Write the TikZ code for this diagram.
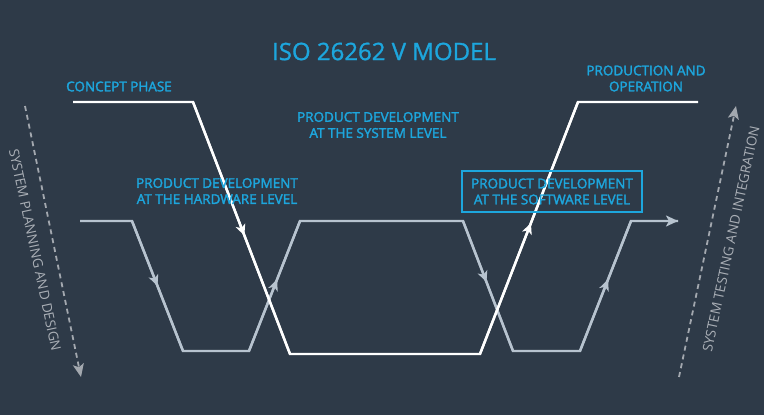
\documentclass[tikz,border=0pt]{standalone}
\usepackage{fontspec}
\setmainfont{Open Sans}
\newfontfamily\labelfont{Open Sans}[FakeBold=2.2]
\newfontfamily\titlefont{Open Sans}[FakeBold=1.2]
\usetikzlibrary{arrows.meta,decorations.markings}
\definecolor{bgslate}{HTML}{2E3A48}
\definecolor{cyanlabel}{HTML}{1DA6DD}
\definecolor{linegray}{HTML}{B7C3CF}
\definecolor{dashgray}{HTML}{A3A8AF}
\definecolor{sidegray}{HTML}{AAAFB6}
\begin{document}
\begin{tikzpicture}[x=1pt,y=-1pt,
  midtip/.style={postaction={decorate,decoration={markings,
      mark=at position #1 with {\arrow{Stealth[length=11pt,width=10pt,inset=3pt]}}}}},
  midtip/.default=0.5,
  systemline/.style={draw=white,line width=2.4pt},
  unitline/.style={draw=linegray,line width=2.4pt},
  phaseaxis/.style={draw=dashgray,line width=1.8pt,dash pattern=on 5pt off 4pt,
      -{Stealth[length=13pt,width=11pt,inset=3pt,fill=dashgray]}},
  heading/.style={text=cyanlabel,font=\titlefont\fontsize{24}{28}\selectfont},
  phaselabel/.style={text=cyanlabel,font=\labelfont\fontsize{13.5}{16}\selectfont,
      align=center,inner sep=0pt},
  sidelabel/.style={text=sidegray,font=\fontsize{13.6}{16}\selectfont,inner sep=0pt}]

\useasboundingbox (0,0) rectangle (764,415);
\fill[bgslate] (0,0) rectangle (764,415);

% corner points of the system-level path
\coordinate (s1) at (73,102);
\coordinate (s2) at (193,102);
\coordinate (s3) at (290,354);
\coordinate (s4) at (480,354);
\coordinate (s5) at (578,102);
\coordinate (s6) at (698,102);

% corner points of the hardware / software path
\coordinate (u1) at (80,221);
\coordinate (u2) at (132,221);
\coordinate (u3) at (183,351);
\coordinate (u4) at (249,351);
\coordinate (u5) at (300,221);
\coordinate (u6) at (463,221);
\coordinate (u7) at (513,351);
\coordinate (u8) at (580,351);
\coordinate (u9) at (631,221);
\coordinate (u10) at (678,221);

% side axes
\coordinate (pa) at (25,106);
\coordinate (pb) at (81,377);
\coordinate (ta) at (679,377);
\coordinate (tb) at (736,106);

% hardware / software path
\draw[unitline] (u1) -- (u2) -- (u3) -- (u4) -- (u5) -- (u6) -- (u7) -- (u8) -- (u9) -- (u10);
\draw[unitline,midtip=0.5] (u2) -- (u3);
\draw[unitline,midtip=0.55] (u4) -- (u5);
\draw[unitline,midtip=0.47] (u6) -- (u7);
\draw[unitline,midtip=0.55] (u8) -- (u9);
\draw[unitline,-{Stealth[length=12pt,width=11pt,inset=3pt]}] (u9) -- (u10);

% system-level path
\draw[systemline] (s1) -- (s2) -- (s3) -- (s4) -- (s5) -- (s6);
\draw[systemline,midtip=0.53] (s2) -- (s3);
\draw[systemline,midtip=0.52] (s4) -- (s5);

% side axes
\draw[phaseaxis] (pa) -- (pb);
\draw[phaseaxis] (ta) -- (tb);

% texts
\node[heading] (title) at (384,51.5) {ISO 26262 V MODEL};
\node[phaselabel] (concept) at (119,86.5) {CONCEPT PHASE};
\node[phaselabel] (production) at (646,78.5) {PRODUCTION AND\\OPERATION};
\node[phaselabel] (syslevel) at (378,125) {PRODUCT DEVELOPMENT\\AT THE SYSTEM LEVEL};
\node[phaselabel] (hwlevel) at (217,191) {PRODUCT DEVELOPMENT\\AT THE HARDWARE LEVEL};
\node[phaselabel,draw=cyanlabel,line width=1.3pt,minimum width=180pt,minimum height=41pt]
  (swlevel) at (552,191.5) {PRODUCT DEVELOPMENT\\AT THE SOFTWARE LEVEL};
\node[sidelabel,rotate=-78] (planning) at (35,250) {SYSTEM PLANNING AND DESIGN};
\node[sidelabel,rotate=78] (testing) at (731,239) {SYSTEM TESTING AND INTEGRATION};
\end{tikzpicture}
\end{document}
